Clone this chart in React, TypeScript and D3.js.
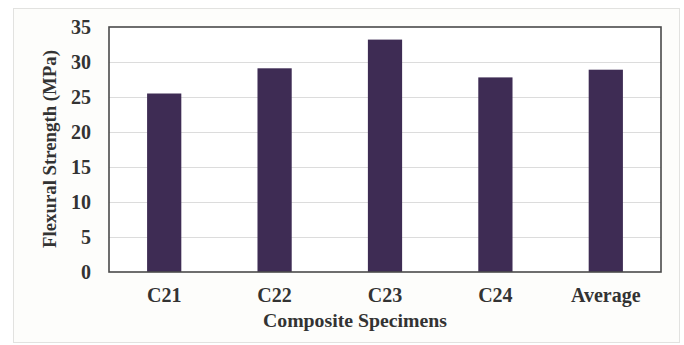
import React from "react";
import * as d3 from "d3";

const categories = ["C21", "C22", "C23", "C24", "Average"];
const values = [25.5, 29.1, 33.2, 27.8, 28.9];
const yTicks = [0, 5, 10, 15, 20, 25, 30, 35];
const xTitle = "Composite Specimens";
const yTitle = "Flexural Strength (MPa)";

const W = 684;
const H = 345;
const plot = { left: 109, right: 661, top: 27, bottom: 272 };
const serif = { fontFamily: "Liberation Serif" };

export default function App() {
  const x = d3
    .scaleBand<string>()
    .domain(categories)
    .range([plot.left, plot.right])
    .paddingInner(0.69)
    .paddingOuter(0.345);
  const y = d3.scaleLinear().domain([0, 35]).range([plot.bottom, plot.top]);

  return (
    <svg
      width={W}
      height={H}
      style={{ position: "fixed", left: 0, top: 0, background: "#fff" }}
    >
      <rect x={13.5} y={8.5} width={666} height={334} fill="#fdfdfb" stroke="#e2e2e0" strokeWidth={1} />
      <rect x={plot.left} y={plot.top} width={plot.right - plot.left} height={plot.bottom - plot.top} fill="#fff" />
      {yTicks.slice(1, -1).map((t) => (
        <line
          key={"g" + t}
          x1={plot.left}
          x2={plot.right}
          y1={Math.round(y(t)) + 0.5}
          y2={Math.round(y(t)) + 0.5}
          stroke="#dcdcdc"
          strokeWidth={1.2}
        />
      ))}
      {categories.map((c, i) => (
        <rect
          key={c}
          x={x(c)}
          y={y(values[i])}
          width={x.bandwidth()}
          height={plot.bottom - y(values[i])}
          fill="#3e2c54"
        />
      ))}
      <rect
        x={plot.left}
        y={plot.top}
        width={plot.right - plot.left}
        height={plot.bottom - plot.top}
        fill="none"
        stroke="#4a4a4a"
        strokeWidth={1.6}
      />
      {yTicks.map((t) => (
        <text
          key={"t" + t}
          x={91}
          y={y(t)}
          dy="0.34em"
          textAnchor="end"
          style={serif}
          fontWeight="bold"
          fontSize={20}
          fill="#333"
        >
          {t}
        </text>
      ))}
      {categories.map((c) => (
        <text
          key={"x" + c}
          x={(x(c) as number) + x.bandwidth() / 2}
          y={302}
          textAnchor="middle"
          style={serif}
          fontWeight="bold"
          fontSize={20}
          fill="#333"
        >
          {c}
        </text>
      ))}
      <text
        x={(plot.left + plot.right) / 2 - 30}
        y={327}
        textAnchor="middle"
        style={serif}
        fontWeight="bold"
        fontSize={19.8}
        fill="#333"
      >
        {xTitle}
      </text>
      <text
        transform={`translate(56,149) rotate(-90)`}
        textAnchor="middle"
        style={serif}
        fontWeight="bold"
        fontSize={18.8}
        fill="#333"
      >
        {yTitle}
      </text>
    </svg>
  );
}
